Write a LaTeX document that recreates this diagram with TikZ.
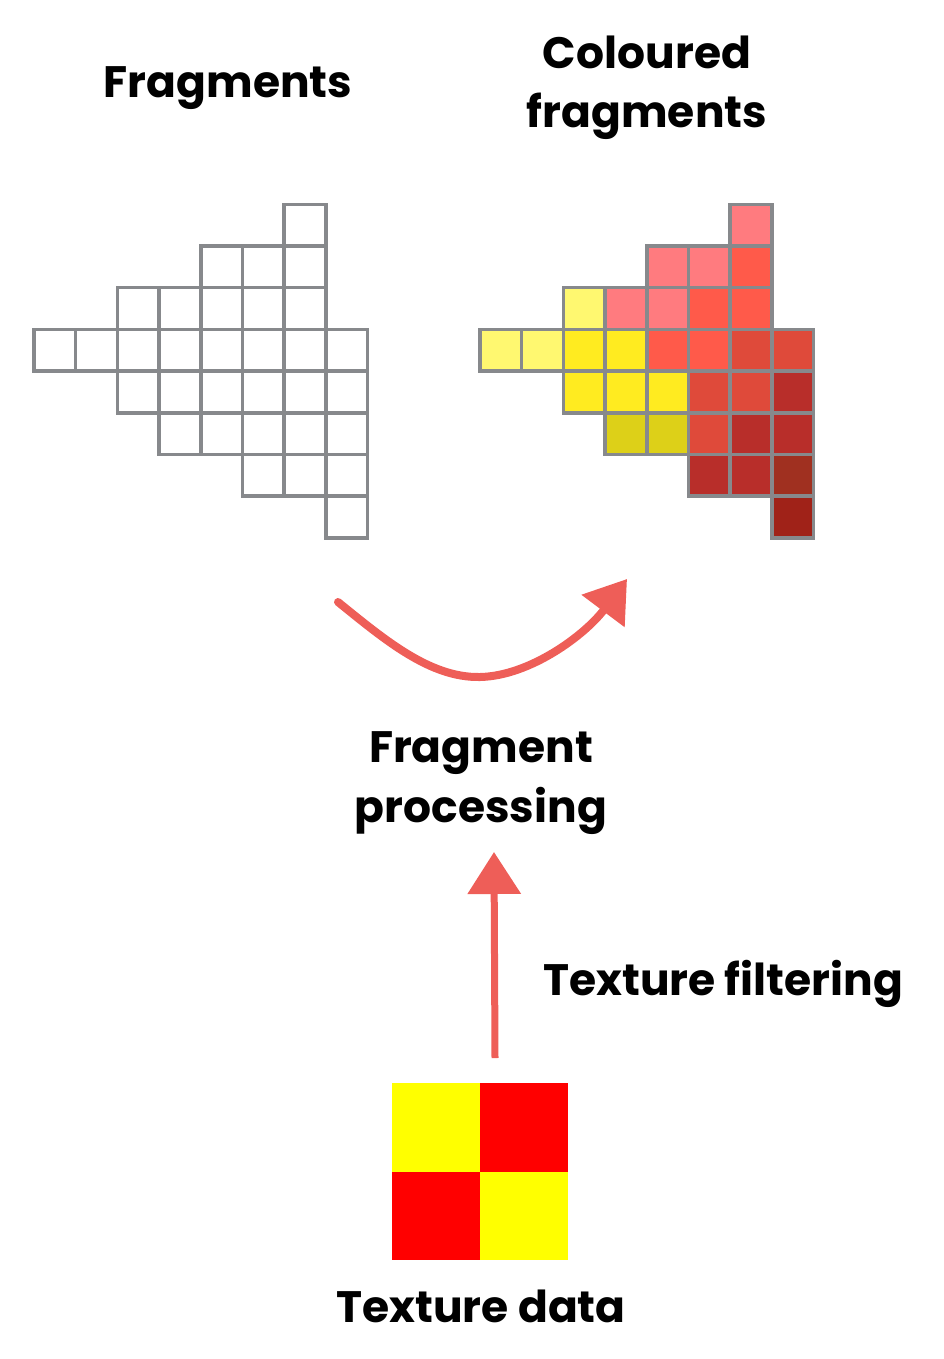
\documentclass[tikz,border=0pt]{standalone}
\usepackage{fontspec}
\setmainfont{Poppins}
\usetikzlibrary{arrows.meta}
\definecolor{gridgray}{HTML}{87898C}
\definecolor{chalk}{HTML}{EE5E58}
\definecolor{cP}{HTML}{FF7B7F}
\definecolor{cO}{HTML}{FF5A4A}
\definecolor{cL}{HTML}{FFF870}
\definecolor{cY}{HTML}{FFEB20}
\definecolor{cV}{HTML}{DDD018}
\definecolor{cA}{HTML}{DF4A3A}
\definecolor{cB}{HTML}{B82E2A}
\definecolor{cC}{HTML}{A03020}
\definecolor{cD}{HTML}{A02218}
\definecolor{texY}{HTML}{FFFF00}
\definecolor{texR}{HTML}{FF0000}
\tikzset{
  lbl/.style={font=\bfseries\fontsize{44}{52}\selectfont, inner sep=0pt, anchor=base},
  cellbox/.style={draw=gridgray, line width=3.5pt},
  chalkarrow/.style={draw=chalk, line width=8pt, -{Triangle[length=40pt,width=52pt]}},
}
\begin{document}
\begin{tikzpicture}[x=1pt,y=-1pt]
\useasboundingbox (0,0) rectangle (943,1359);
\def\cs{41.7}
% left grid (empty fragments)
\foreach \r/\c in {0/6,1/4,1/5,1/6,2/2,2/3,2/4,2/5,2/6,3/0,3/1,3/2,3/3,3/4,3/5,3/6,3/7,4/2,4/3,4/4,4/5,4/6,4/7,5/3,5/4,5/5,5/6,5/7,6/5,6/6,6/7,7/7}{
  \path[cellbox] ({34+\c*\cs},{204.3+\r*\cs}) rectangle ++(\cs,\cs);
}
% right grid (coloured fragments)
\foreach \r/\c/\col in {0/6/cP,1/4/cP,1/5/cP,1/6/cO,2/2/cL,2/3/cP,2/4/cP,2/5/cO,2/6/cO,3/0/cL,3/1/cL,3/2/cY,3/3/cY,3/4/cO,3/5/cO,3/6/cA,3/7/cA,4/2/cY,4/3/cY,4/4/cY,4/5/cA,4/6/cA,4/7/cB,5/3/cV,5/4/cV,5/5/cA,5/6/cB,5/7/cB,6/5/cB,6/6/cB,6/7/cC,7/7/cD}{
  \path[cellbox, fill=\col] ({480+\c*\cs},{204.3+\r*\cs}) rectangle ++(\cs,\cs);
}
% labels
\node[lbl] (frag) at (228,98) {Fragments};
\node[lbl] (col1) at (647,69) {Coloured};
\node[lbl] (col2) at (647,128) {fragments};
\node[lbl] (proc1) at (481,762) {Fragment};
\node[lbl] (proc2) at (481,822) {processing};
\node[lbl, anchor=base west] (filt) at (543,995) {Texture filtering};
\node[lbl] (tdata) at (481,1322) {Texture data};
% texture square
\node[minimum size=176pt, inner sep=0pt] (texsq) at (480,1171.5) {};
\fill[texY] (texsq.north west) rectangle (texsq.center);
\fill[texR] (texsq.north) rectangle (texsq.east);
\fill[texR] (texsq.west) rectangle (texsq.south);
\fill[texY] (texsq.center) rectangle (texsq.south east);
% arrows
\coordinate (arcstart) at (338,602);
\coordinate (arcmid) at (480,677);
\coordinate (arcend) at (627,579);
\draw[chalkarrow, line cap=round] (arcstart) .. controls (385,640) and (430,678) .. (arcmid) .. controls (530,676) and (585,635) .. (arcend);
\coordinate (upstart) at (495,1058);
\coordinate (upend) at (494,852);
\draw[chalkarrow, line width=7pt, -{Triangle[length=42pt,width=52pt]}] (upstart) -- (upend);
\end{tikzpicture}
\end{document}
